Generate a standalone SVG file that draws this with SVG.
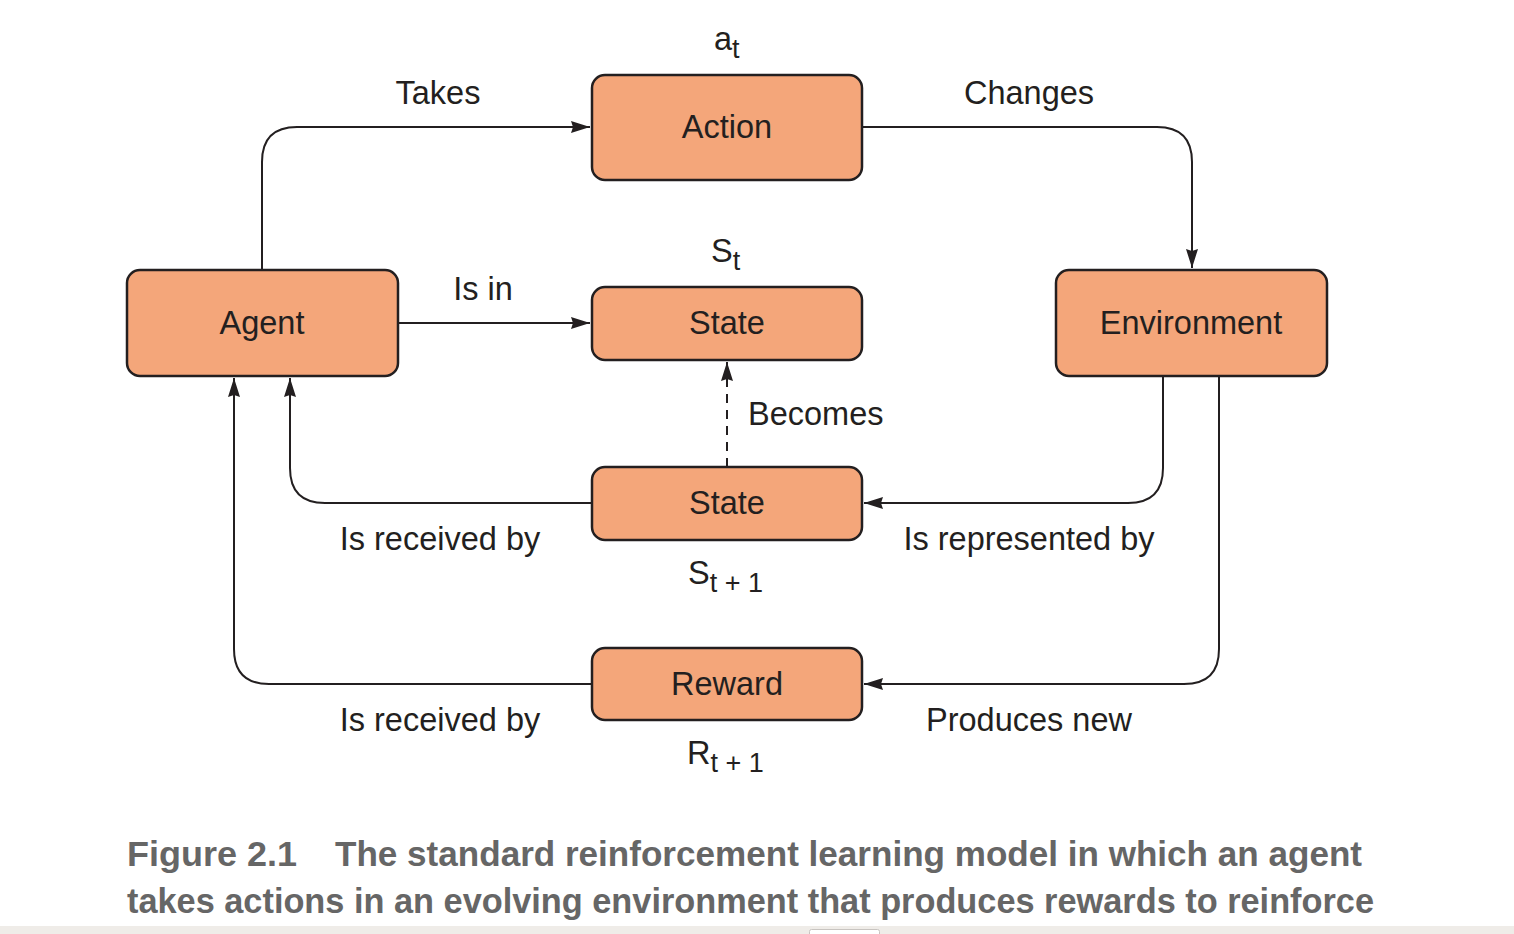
<svg xmlns="http://www.w3.org/2000/svg" width="1514" height="934" viewBox="0 0 1514 934">
<style>
.box{fill:#f4a67a;stroke:#231f20;stroke-width:2.5}
.lbl{font-family:"Liberation Sans",Arial,sans-serif;font-size:32.5px;fill:#231f20}
.c{text-anchor:middle}
.sub{font-size:27px}
.con{fill:none;stroke:#231f20;stroke-width:2}
.cap{font-family:"Liberation Sans",Arial,sans-serif;font-weight:bold;font-size:35px;fill:#666666}
</style>
<defs>
<marker id="ah" markerUnits="userSpaceOnUse" markerWidth="20" markerHeight="14" refX="19" refY="7" orient="auto">
<path d="M0,1 L19,7 L0,13 L2,7 Z" fill="#231f20"/>
</marker>
</defs>
<rect width="1514" height="934" fill="#ffffff"/>
<g id="connectors">
<path class="con" d="M262,270 V162 Q262,127 297,127 H590" marker-end="url(#ah)"/>
<path class="con" d="M862,127 H1157 Q1192,127 1192,162 V268" marker-end="url(#ah)"/>
<path class="con" d="M398,323 H590" marker-end="url(#ah)"/>
<path class="con" d="M727,467 V362" stroke-dasharray="9,7" marker-end="url(#ah)"/>
<path class="con" d="M1163,376 V468 Q1163,503 1128,503 H864" marker-end="url(#ah)"/>
<path class="con" d="M592,503 H325 Q290,503 290,468 V378" marker-end="url(#ah)"/>
<path class="con" d="M1219,376 V649 Q1219,684 1184,684 H864" marker-end="url(#ah)"/>
<path class="con" d="M592,684 H269 Q234,684 234,649 V378" marker-end="url(#ah)"/>
</g>
<g id="action"><rect class="box" x="592" y="75" width="270" height="105" rx="13"/><text class="lbl c" x="727" y="138">Action</text></g>
<g id="agent"><rect class="box" x="127" y="270" width="271" height="106" rx="13"/><text class="lbl c" x="262" y="334">Agent</text></g>
<g id="state-t"><rect class="box" x="592" y="287" width="270" height="73" rx="13"/><text class="lbl c" x="727" y="334">State</text></g>
<g id="environment"><rect class="box" x="1056" y="270" width="271" height="106" rx="13"/><text class="lbl c" x="1191" y="334">Environment</text></g>
<g id="state-t1"><rect class="box" x="592" y="467" width="270" height="73" rx="13"/><text class="lbl c" x="727" y="514">State</text></g>
<g id="reward"><rect class="box" x="592" y="648" width="270" height="72" rx="13"/><text class="lbl c" x="727" y="695">Reward</text></g>
<g id="labels">
<text class="lbl c" x="438" y="104">Takes</text>
<text class="lbl c" x="1029" y="104">Changes</text>
<text class="lbl" x="714" y="50">a<tspan class="sub" dy="8">t</tspan></text>
<text class="lbl" x="711" y="262">S<tspan class="sub" dy="8">t</tspan></text>
<text class="lbl c" x="483" y="300">Is in</text>
<text class="lbl" x="748" y="425">Becomes</text>
<text class="lbl c" x="440" y="550">Is received by</text>
<text class="lbl c" x="1029" y="550">Is represented by</text>
<text class="lbl" x="688" y="584">S<tspan class="sub" dy="8">t + 1</tspan></text>
<text class="lbl c" x="440" y="731">Is received by</text>
<text class="lbl c" x="1029" y="731">Produces new</text>
<text class="lbl" x="687" y="764">R<tspan class="sub" dy="8">t + 1</tspan></text>
</g>
<g id="caption">
<text class="cap" x="127" y="866" textLength="170" lengthAdjust="spacingAndGlyphs">Figure 2.1</text>
<text class="cap" x="335" y="866" textLength="1027" lengthAdjust="spacingAndGlyphs">The standard reinforcement learning model in which an agent</text>
<text class="cap" x="127" y="913" textLength="1247" lengthAdjust="spacingAndGlyphs">takes actions in an evolving environment that produces rewards to reinforce</text>
</g>
<rect x="0" y="926" width="1514" height="8" fill="#efece8"/>
<rect x="809.5" y="929.5" width="70" height="10" rx="2" fill="#ffffff" stroke="#c8c4c0" stroke-width="1"/>
</svg>
